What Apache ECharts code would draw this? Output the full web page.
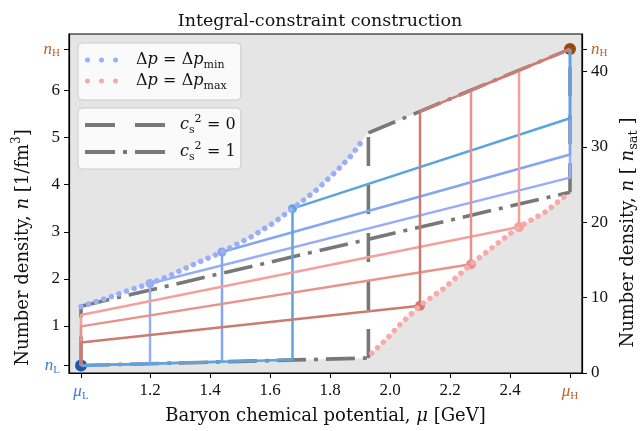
<!DOCTYPE html>
<html>
<head>
<meta charset="utf-8">
<script src="https://cdn.jsdelivr.net/npm/echarts@6/dist/echarts.min.js"></script>
<style>
  html, body { margin: 0; padding: 0; background: #fff; }
  #chart { width: 640px; height: 431px; }
</style>
</head>
<body>
<div id="chart"></div>
<script>
var SERIF = 'DejaVu Serif';
var TICKFONT = 'Liberation Serif';

// end points of the construction
var muL = 0.97, muH = 2.6, nL = 0.16, nH = 6.88, nSat = 0.16;

// Delta p = Delta p_min boundary (blue dots)
var minCurveMu = [0.97, 1.07, 1.14, 1.20, 1.26, 1.34, 1.44, 1.54, 1.61, 1.675, 1.75, 1.82, 1.87, 1.913];
var minCurveN  = [1.41, 1.62, 1.78, 1.90, 2.05, 2.29, 2.57, 2.90, 3.18, 3.49, 3.86, 4.28, 4.61, 4.98];

// Delta p = Delta p_max boundary (red dots)
var maxCurveMu = [1.939, 1.99, 2.03, 2.10, 2.18, 2.27, 2.36, 2.43, 2.52, 2.60];
var maxCurveN  = [0.42, 0.73, 1.01, 1.43, 1.80, 2.31, 2.76, 3.10, 3.43, 3.84];

// c_s^2 = 1 segments (dash-dot) and c_s^2 = 0 segments (dashed)
var cs1Mu = [[muL, 1.928], [muL, muH], [1.928, muH]];
var cs1N  = [[nL, 0.318], [1.42, 3.84], [5.10, nH]];
var cs0Mu = [[muL, muL], [1.928, 1.928], [muH, muH]];
var cs0N  = [[nL, 1.42], [0.318, 5.10], [3.84, nH]];

// blue paths: jump at mu onto the min curve
var blueMu     = [1.20, 1.44, 1.675];
var blueFootN  = [0.20, 0.24, 0.28];
var blueTopN   = [1.90, 2.57, 3.49];
var blueEndN   = [4.15, 4.64, 5.41];
var blueColors = ['#96aef5', '#82a6f0', '#5ca4de'];

// red paths: jump at muL, run onto the max curve
var redStartN = [1.23, 0.99, 0.65];
var redMu     = [2.43, 2.27, 2.10];
var redMarkN  = [3.10, 2.31, 1.43];
var redTopN   = [6.43, 6.00, 5.55];
var redColors = ['#f4a19c', '#e8928c', '#cc7b72'];

// ticks
var xTicks = [muL, 1.2, 1.4, 1.6, 1.8, 2.0, 2.2, 2.4, muH];
var yTicks = [nL, 1, 2, 3, 4, 5, 6, nH];
var ySatTicks = [0, 10, 20, 30, 40, 43];

var GREY = '#787878';
var BLUE_TXT = '#3d7ccc', BROWN_TXT = '#b5652d';

function zip(a, b) {
  return a.map(function (v, i) { return [v, b[i]]; });
}
function near(a, b) { return Math.abs(a - b) < 1e-6; }

var rich = {
  r:   { fontFamily: SERIF, fontSize: 16, color: '#111', lineHeight: 22 },
  i:   { fontFamily: SERIF, fontSize: 16, fontStyle: 'italic', color: '#111', lineHeight: 22 },
  eq:  { fontFamily: SERIF, fontSize: 16, color: '#111', lineHeight: 22, width: 24, align: 'center' },
  sub: { fontFamily: SERIF, fontSize: 11, color: '#111', verticalAlign: 'bottom', lineHeight: 12 },
  sup: { fontFamily: SERIF, fontSize: 11, color: '#111', verticalAlign: 'top', lineHeight: 12 },
  R:   { fontFamily: SERIF, fontSize: 18, color: '#111', lineHeight: 24 },
  I:   { fontFamily: SERIF, fontSize: 18, fontStyle: 'italic', color: '#111', lineHeight: 24 },
  SUB: { fontFamily: SERIF, fontSize: 13, color: '#111', verticalAlign: 'bottom', lineHeight: 13 },
  SUP: { fontFamily: SERIF, fontSize: 12, color: '#111', verticalAlign: 'top', lineHeight: 13 },
  bi:  { fontFamily: TICKFONT, fontSize: 17, fontStyle: 'italic', color: BLUE_TXT, lineHeight: 20 },
  bs:  { fontFamily: TICKFONT, fontSize: 11, color: BLUE_TXT, verticalAlign: 'bottom', lineHeight: 11 },
  hi:  { fontFamily: TICKFONT, fontSize: 17, fontStyle: 'italic', color: BROWN_TXT, lineHeight: 20 },
  hs:  { fontFamily: TICKFONT, fontSize: 11, color: BROWN_TXT, verticalAlign: 'bottom', lineHeight: 11 },
  sp1: { width: 13 },
  sp2: { width: 10 }
};

var series = [];

// white allowed region
var region = [[muL, nL], [1.928, 0.318]]
  .concat(zip(maxCurveMu, maxCurveN))
  .concat([[muH, nH], [1.928, 5.10]])
  .concat(zip(minCurveMu, minCurveN).reverse());
series.push({
  type: 'custom',
  silent: true,
  data: [[muL, nL]],
  renderItem: function (params, api) {
    return {
      type: 'polygon',
      shape: { points: region.map(function (p) { return api.coord(p); }) },
      style: { fill: '#ffffff' }
    };
  }
});

cs0Mu.forEach(function (m, k) {
  series.push({
    name: 'cs0', type: 'line', color: GREY, symbol: 'none',
    data: zip(m, cs0N[k]),
    lineStyle: { color: GREY, width: 3.6, type: [29, 19] }
  });
});
cs1Mu.forEach(function (m, k) {
  series.push({
    name: 'cs1', type: 'line', color: GREY, symbol: 'none',
    data: zip(m, cs1N[k]),
    lineStyle: { color: GREY, width: 3.6, type: [29, 8, 4, 8] }
  });
});

blueMu.forEach(function (m, k) {
  series.push({
    type: 'line', symbol: 'none',
    data: [[muL, nL], [m, blueFootN[k]], [m, blueTopN[k]], [muH, blueEndN[k]], [muH, nH]],
    lineStyle: { color: blueColors[k], width: 2.5 }
  });
});
redMu.forEach(function (m, k) {
  series.push({
    type: 'line', symbol: 'none',
    data: [[muL, nL], [muL, redStartN[k]], [m, redMarkN[k]], [m, redTopN[k]], [muH, nH]],
    lineStyle: { color: redColors[k], width: 2.5 }
  });
});

series.push({
  name: 'dpmin', type: 'line', color: '#9aaefa', symbol: 'none',
  data: zip(minCurveMu, minCurveN),
  lineStyle: { color: '#9aaefa', width: 5.5, type: [0.01, 8], cap: 'round' }
});
series.push({
  name: 'dpmax', type: 'line', color: '#fba8a8', symbol: 'none',
  data: zip(maxCurveMu, maxCurveN),
  lineStyle: { color: '#fba8a8', width: 5.5, type: [0.01, 8], cap: 'round' }
});

series.push({
  type: 'scatter', symbolSize: 9, itemStyle: { opacity: 1 },
  data: blueMu.map(function (m, k) {
    return { value: [m, blueTopN[k]], itemStyle: { color: blueColors[k] } };
  })
});
series.push({
  type: 'scatter', symbolSize: 10, itemStyle: { opacity: 1 },
  data: redMu.map(function (m, k) {
    return { value: [m, redMarkN[k]], itemStyle: { color: redColors[k] } };
  })
});
series.push({
  type: 'scatter', symbolSize: 12, itemStyle: { opacity: 1 },
  data: [
    { value: [muL, nL], itemStyle: { color: '#1f58a6' } },
    { value: [muH, nH], itemStyle: { color: '#974a0f' } }
  ]
});

var legendText = {
  dpmin: '{sp1|}{r|Δ}{i|p}{eq|=}{r|Δ}{i|p}{sub|min}',
  dpmax: '{sp1|}{r|Δ}{i|p}{eq|=}{r|Δ}{i|p}{sub|max}',
  cs0: '{sp2|}{i|c}{sub|s}{sup|2}{eq|=}{r|0}',
  cs1: '{sp2|}{i|c}{sub|s}{sup|2}{eq|=}{r|1}'
};
var legendBase = {
  orient: 'vertical', left: 78,
  backgroundColor: 'rgba(255,255,255,0.8)', borderColor: '#cccccc', borderWidth: 1, borderRadius: 4,
  itemHeight: 20, itemStyle: { borderWidth: 0 },
  selectedMode: false,
  textStyle: { rich: rich },
  formatter: function (name) { return legendText[name]; }
};
var dotsIcon = 'path://M0,2.5a2.5,2.5 0 1,0 5,0a2.5,2.5 0 1,0 -5,0zM14,2.5a2.5,2.5 0 1,0 5,0a2.5,2.5 0 1,0 -5,0zM28,2.5a2.5,2.5 0 1,0 5,0a2.5,2.5 0 1,0 -5,0z';
var dashIcon = 'path://M0,0h30v4h-30zM50,0h30v4h-30z';
var dashDotIcon = 'path://M0,0h30v4h-30zM38,0h4v4h-4zM50,0h30v4h-30z';

var chart = echarts.init(document.getElementById('chart'), null, { renderer: 'canvas' });
chart.setOption({
  animation: false,
  title: {
    text: 'Integral-constraint construction',
    left: 'center', top: 7,
    textStyle: { fontFamily: SERIF, fontSize: 17.5, fontWeight: 'normal', color: '#111' }
  },
  legend: [
    Object.assign({}, legendBase, {
      top: 43, itemWidth: 33, itemGap: 2, padding: [9, 14, 8, 7],
      data: [{ name: 'dpmin', icon: dotsIcon }, { name: 'dpmax', icon: dotsIcon }]
    }),
    Object.assign({}, legendBase, {
      top: 108, itemWidth: 80, itemGap: 5, padding: [6, 5, 6, 7],
      data: [{ name: 'cs0', icon: dashIcon }, { name: 'cs1', icon: dashDotIcon }]
    })
  ],
  grid: {
    left: 69, right: 58, top: 34, bottom: 58,
    containLabel: false, outerBoundsMode: 'none',
    show: true, backgroundColor: '#e5e5e5', borderColor: '#000', borderWidth: 1.2
  },
  xAxis: {
    type: 'value', min: 0.93, max: 2.64,
    axisLine: { onZero: false, lineStyle: { color: '#000', width: 1.2 } },
    axisTick: { length: 5, lineStyle: { color: '#000' }, customValues: xTicks },
    splitLine: { show: false },
    axisLabel: {
      customValues: xTicks, margin: 9,
      fontFamily: TICKFONT, fontSize: 17, color: '#111', rich: rich,
      formatter: function (v) {
        if (near(v, muL)) return '{bi|μ}{bs|L}';
        if (near(v, muH)) return '{hi|μ}{hs|H}';
        return v.toFixed(1);
      }
    },
    name: '{R|Baryon chemical potential, }{I|μ}{R| [GeV]}',
    nameLocation: 'middle', nameGap: 31,
    nameTextStyle: { rich: rich }
  },
  yAxis: [{
    type: 'value', min: 0, max: 7.2,
    axisLine: { show: true, lineStyle: { color: '#000', width: 1.2 } },
    axisTick: { show: true, length: 5, lineStyle: { color: '#000' }, customValues: yTicks },
    splitLine: { show: false },
    axisLabel: {
      customValues: yTicks, margin: 9,
      fontFamily: TICKFONT, fontSize: 17, color: '#111', rich: rich,
      formatter: function (v) {
        if (near(v, nL)) return '{bi|n}{bs|L}';
        if (near(v, nH)) return '{hi|n}{hs|H}';
        return String(v);
      }
    },
    name: '{R|Number density, }{I|n}{R| [1/fm}{SUP|3}{R|]}',
    nameLocation: 'middle', nameRotate: 90, nameGap: 34,
    nameTextStyle: { rich: rich, padding: [0, 88, 0, 0] }
  }, {
    type: 'value', min: 0, max: 45, position: 'right',
    axisLine: { show: true, lineStyle: { color: '#000', width: 1.2 } },
    axisTick: { show: true, length: 5, lineStyle: { color: '#000' }, customValues: ySatTicks },
    splitLine: { show: false },
    axisLabel: {
      customValues: ySatTicks, margin: 9,
      fontFamily: TICKFONT, fontSize: 17, color: '#111', rich: rich,
      formatter: function (v) {
        if (near(v, 43)) return '{hi|n}{hs|H}';
        return String(v);
      }
    },
    name: '{R|Number density, }{I|n}{R| [ }{I|n}{SUB|sat}{R| ]}',
    nameLocation: 'middle', nameRotate: 90, nameGap: 33,
    nameTextStyle: { rich: rich, padding: [0, 58, 0, 0] }
  }],
  series: series
});
</script>
</body>
</html>
